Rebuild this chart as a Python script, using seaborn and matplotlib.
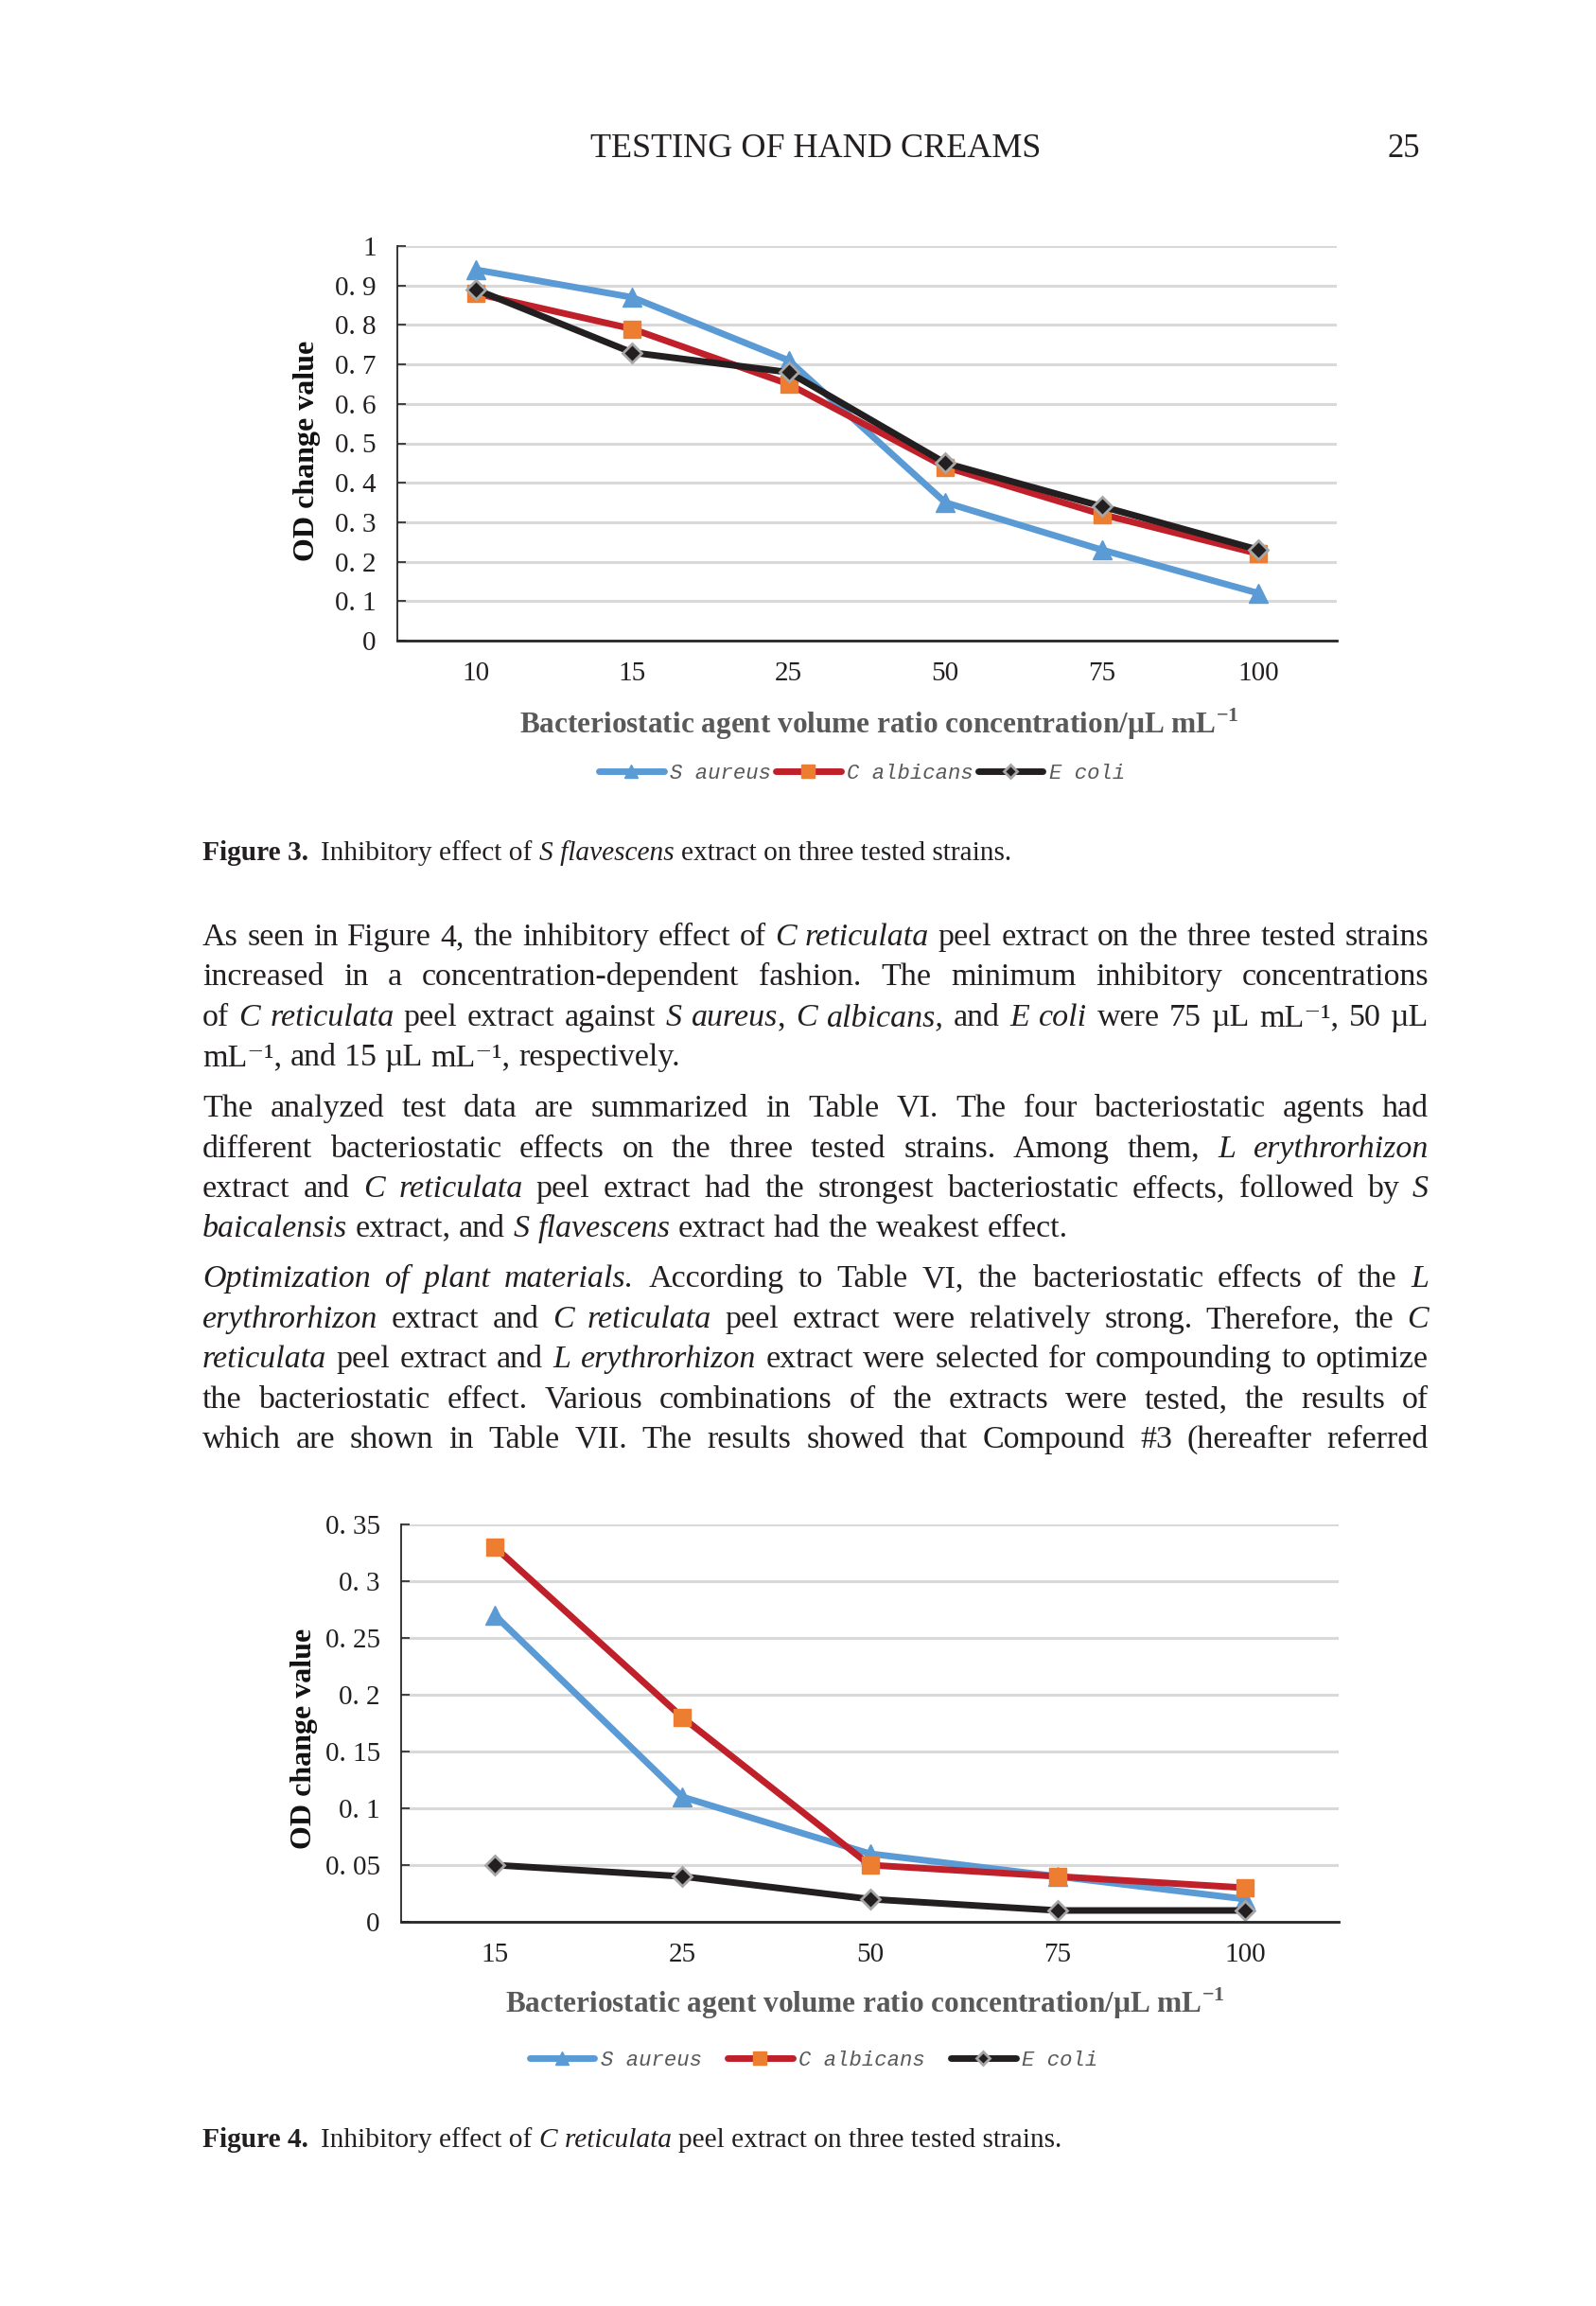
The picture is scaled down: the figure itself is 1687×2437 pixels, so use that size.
import matplotlib
matplotlib.use("Agg")
import matplotlib.pyplot as plt
import seaborn as sns
import pandas as pd
from matplotlib.font_manager import FontProperties

W_PX, H_PX = 1687, 2437

# ---- chart data ----
strains = ["S aureus", "C albicans", "E coli"]

fig3_conc = ["10", "15", "25", "50", "75", "100"]
fig3_s_aureus = [0.94, 0.87, 0.71, 0.35, 0.23, 0.12]
fig3_c_albicans = [0.88, 0.79, 0.65, 0.44, 0.32, 0.22]
fig3_e_coli = [0.89, 0.73, 0.68, 0.45, 0.34, 0.23]
fig3_yticks = [0, 0.1, 0.2, 0.3, 0.4, 0.5, 0.6, 0.7, 0.8, 0.9, 1.0]
fig3_yticklabels = ["0", "0. 1", "0. 2", "0. 3", "0. 4", "0. 5",
                    "0. 6", "0. 7", "0. 8", "0. 9", "1"]

fig4_conc = ["15", "25", "50", "75", "100"]
fig4_s_aureus = [0.27, 0.11, 0.06, 0.04, 0.02]
fig4_c_albicans = [0.33, 0.18, 0.05, 0.04, 0.03]
fig4_e_coli = [0.05, 0.04, 0.02, 0.01, 0.01]
fig4_yticks = [0, 0.05, 0.1, 0.15, 0.2, 0.25, 0.3, 0.35]
fig4_yticklabels = ["0", "0. 05", "0. 1", "0. 15", "0. 2", "0. 25", "0. 3", "0. 35"]

x_label = r"Bacteriostatic agent volume ratio concentration/µL mL$^{\mathbf{-1}}$"
y_label = "OD change value"

header = "TESTING OF HAND CREAMS"
page_no = "25"

caption3 = [("Figure 3.", "bold"), ("Inhibitory effect of", "normal"),
            ("S flavescens", "italic"), ("extract on three tested strains.", "normal")]
caption4 = [("Figure 4.", "bold"), ("Inhibitory effect of", "normal"),
            ("C reticulata", "italic"), ("peel extract on three tested strains.", "normal")]

# body text, one entry per printed line; *...* marks italics
paragraphs = [
    [
        "As seen in Figure 4, the inhibitory effect of *C reticulata* peel extract on the three tested strains",
        "increased in a concentration-dependent fashion. The minimum inhibitory concentrations",
        "of *C reticulata* peel extract against *S aureus*, *C albicans,* and *E coli* were 75 µL mL⁻¹, 50 µL",
        "mL⁻¹, and 15 µL mL⁻¹, respectively.",
    ],
    [
        "The analyzed test data are summarized in Table VI. The four bacteriostatic agents had",
        "different bacteriostatic effects on the three tested strains. Among them, *L erythrorhizon*",
        "extract and *C reticulata* peel extract had the strongest bacteriostatic effects, followed by *S*",
        "*baicalensis* extract, and *S flavescens* extract had the weakest effect.",
    ],
    [
        "*Optimization of plant materials.* According to Table VI, the bacteriostatic effects of the *L*",
        "*erythrorhizon* extract and *C reticulata* peel extract were relatively strong. Therefore, the *C*",
        "*reticulata* peel extract and *L erythrorhizon* extract were selected for compounding to optimize",
        "the bacteriostatic effect. Various combinations of the extracts were tested, the results of",
        "which are shown in Table VII. The results showed that Compound #3 (hereafter referred",
    ],
]
# the last paragraph runs on to the next page, so its last line is justified too
para_last_justified = [False, False, True]

# ---- styling ----
sns.set_theme(style="white")
SERIF = ["Liberation Serif", "DejaVu Serif"]
plt.rcParams["font.family"] = SERIF
plt.rcParams["mathtext.fontset"] = "custom"
plt.rcParams["mathtext.rm"] = "Liberation Serif"
plt.rcParams["mathtext.bf"] = "Liberation Serif:bold"

TEXT_COLOR = "#231f20"
styles = {
    "S aureus": dict(color="#5b9bd5", marker="^", markersize=14,
                     markerfacecolor="#5b9bd5", markeredgecolor="#5b9bd5", markeredgewidth=1),
    "C albicans": dict(color="#c0202a", marker="s", markersize=13.5,
                       markerfacecolor="#ed7d31", markeredgecolor="#ed7d31", markeredgewidth=1),
    "E coli": dict(color="#231f20", marker="D", markersize=10,
                   markerfacecolor="#231f20", markeredgecolor="#a6a6a6", markeredgewidth=2),
}

fig = plt.figure(figsize=(W_PX / 100, H_PX / 100), dpi=100)
fig.patch.set_facecolor("white")


def px_axes(left, top, right, bottom):
    return fig.add_axes([left / W_PX, 1 - bottom / H_PX,
                         (right - left) / W_PX, (bottom - top) / H_PX])


def draw_chart(ax, conc, series, yticks, yticklabels, leg_xy, colspacing,
               xlabel_xy, ylabel_xy):
    rows = []
    for strain, vals in zip(strains, series):
        for i, v in enumerate(vals):
            rows.append({"pos": i, "od": v, "strain": strain})
    df = pd.DataFrame(rows)

    for strain in strains:
        sub = df[df["strain"] == strain]
        sns.lineplot(data=sub, x="pos", y="od", ax=ax, linewidth=5,
                     label=strain, clip_on=False, **styles[strain])

    ax.set_xlim(-0.5, len(conc) - 0.5)
    ax.set_ylim(yticks[0], yticks[-1])
    ax.set_xticks(range(len(conc)))
    ax.set_xticklabels(conc, fontsize=21, color=TEXT_COLOR)
    ax.set_yticks(yticks)
    ax.set_yticklabels(yticklabels, fontsize=21, color=TEXT_COLOR)
    ax.tick_params(axis="x", length=0, pad=16)
    ax.tick_params(axis="y", direction="in", length=6.5, width=1.2,
                   color="#262626", pad=16, left=True)

    ax.grid(axis="y", color="#d9d9d9", linewidth=2.2)
    ax.grid(axis="x", visible=False)
    ax.set_axisbelow(True)
    for side in ["top", "right"]:
        ax.spines[side].set_visible(False)
    ax.spines["left"].set_color("#262626")
    ax.spines["left"].set_linewidth(1.3)
    ax.spines["bottom"].set_color("#262626")
    ax.spines["bottom"].set_linewidth(2)

    ax.set_xlabel(x_label, fontsize=22.5, fontweight="bold", color="#595959")
    ax.xaxis.set_label_coords(*xlabel_xy)
    ax.xaxis.label.set_verticalalignment("center")
    ax.set_ylabel(y_label, fontsize=23, fontweight="bold", color="#111111")
    ax.yaxis.set_label_coords(*ylabel_xy)
    ax.yaxis.label.set_verticalalignment("center")

    handles, labels = ax.get_legend_handles_labels()
    ax.legend(handles, labels, loc="center", bbox_to_anchor=leg_xy, ncol=3,
              frameon=False, handlelength=3.1, handletextpad=0.3,
              columnspacing=colspacing, markerscale=0.72, borderaxespad=0,
              prop=FontProperties(family="Liberation Mono", style="italic", size=16),
              labelcolor="#595959")


ax3 = px_axes(420, 260, 1413, 677)
draw_chart(ax3, fig3_conc, [fig3_s_aureus, fig3_c_albicans, fig3_e_coli],
           fig3_yticks, fig3_yticklabels, leg_xy=(0.4945, -0.336), colspacing=0.2,
           xlabel_xy=(0.5126, -0.211), ylabel_xy=(-0.0957, 0.482))

ax4 = px_axes(424, 1611, 1415, 2031)
draw_chart(ax4, fig4_conc, [fig4_s_aureus, fig4_c_albicans, fig4_e_coli],
           fig4_yticks, fig4_yticklabels, leg_xy=(0.44, -0.348), colspacing=1.2,
           xlabel_xy=(0.4945, -0.205), ylabel_xy=(-0.103, 0.462))

# ---- page text ----
renderer = fig.canvas.get_renderer()


def make_text(s, size, style="normal", weight="normal"):
    return fig.text(0, 0, s, fontsize=size, fontstyle=style, fontweight=weight,
                    family=SERIF, color=TEXT_COLOR, ha="left", va="baseline")


def width_of(t):
    return t.get_window_extent(renderer).width


def space_width(size):
    a = make_text("x x", size)
    b = make_text("xx", size)
    w = width_of(a) - width_of(b)
    a.remove()
    b.remove()
    return w


def parse_line(line):
    words = [[]]
    italic = False
    buf = ""
    for ch in line:
        if ch == "*":
            if buf:
                words[-1].append((buf, italic))
                buf = ""
            italic = not italic
        elif ch == " ":
            if buf:
                words[-1].append((buf, italic))
                buf = ""
            words.append([])
        else:
            buf += ch
    if buf:
        words[-1].append((buf, italic))
    return [w for w in words if w]


def build_words(line, size):
    words = []
    total = 0
    for w in parse_line(line):
        segs = []
        for s, it in w:
            t = make_text(s, size, style="italic" if it else "normal")
            sw = width_of(t)
            segs.append((t, sw))
            total += sw
        words.append(segs)
    return words, total


def draw_line(line, y_base, x0, x1, size, justify):
    words, total = build_words(line, size)
    n_gaps = max(len(words) - 1, 1)
    em = size * 100 / 72
    if justify:
        # shrink a too-long line so word spaces stay at a sane minimum
        min_gap = 0.2 * em
        if total + n_gaps * min_gap > x1 - x0:
            for segs in words:
                for t, _ in segs:
                    t.remove()
            size = size * (x1 - x0 - n_gaps * min_gap) / total
            words, total = build_words(line, size)
        gap = (x1 - x0 - total) / n_gaps
    else:
        gap = space_width(size)
    x = x0
    for segs in words:
        for t, sw in segs:
            t.set_position((x / W_PX, 1 - y_base / H_PX))
            x += sw
        x += gap


BODY_SIZE = 24.5
BODY_LEFT, BODY_RIGHT = 214, 1510
line_centres = [[990, 1032, 1075, 1117],
                [1171, 1214, 1256, 1298],
                [1351, 1394, 1436, 1479, 1521]]
for para, ys, last_just in zip(paragraphs, line_centres, para_last_justified):
    for i, (line, yc) in enumerate(zip(para, ys)):
        justify = last_just or i < len(para) - 1
        draw_line(line, yc + 9, BODY_LEFT, BODY_RIGHT, BODY_SIZE, justify)


def draw_caption(parts, y_base, x0, size):
    x = x0
    sp = space_width(size)
    for k, (s, kind) in enumerate(parts):
        if kind == "bold":
            t = make_text(s, size, weight="bold")
        elif kind == "italic":
            t = make_text(s, size, style="italic")
        else:
            t = make_text(s, size)
        t.set_position((x / W_PX, 1 - y_base / H_PX))
        x += width_of(t) + (sp * 1.8 if k == 0 else sp)


draw_caption(caption3, 902 + 7, 214, 21.2)
draw_caption(caption4, 2262 + 7, 214, 21.2)

fig.text(862 / W_PX, 1 - 158 / H_PX, header, fontsize=26, family=SERIF,
         color=TEXT_COLOR, ha="center", va="center")
fig.text(1484 / W_PX, 1 - 158 / H_PX, page_no, fontsize=25, family=SERIF,
         color=TEXT_COLOR, ha="center", va="center")

fig.savefig("out.png", dpi=100, facecolor="white")
